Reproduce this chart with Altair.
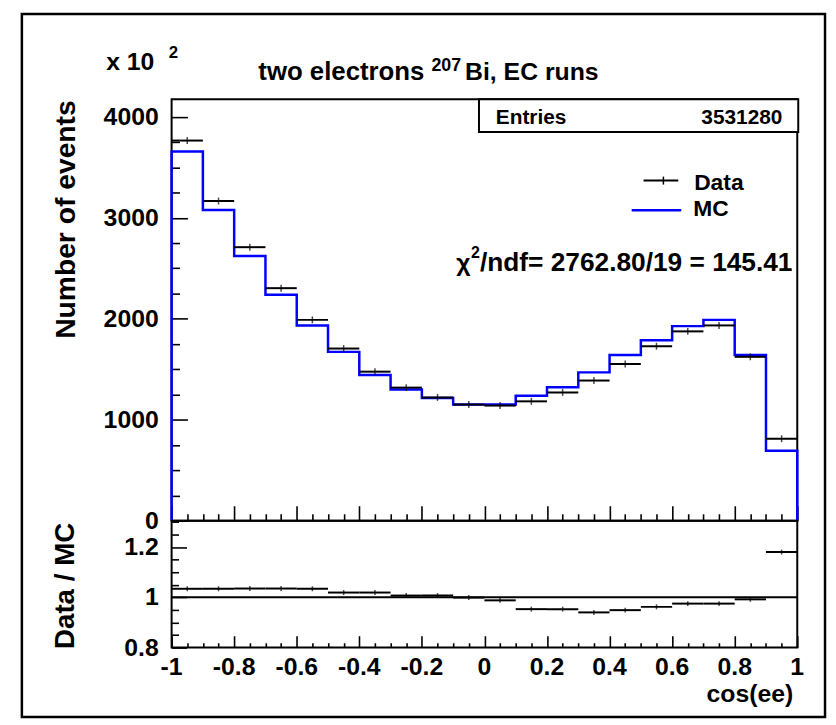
import altair as alt
import numpy as np
import pandas as pd

# ---------------- data (counts in units of 10^2) ----------------
bin_low = [-1.0, -0.9, -0.8, -0.7, -0.6, -0.5, -0.4, -0.3, -0.2, -0.1,
           0.0, 0.1, 0.2, 0.3, 0.4, 0.5, 0.6, 0.7, 0.8, 0.9]
bin_width = 0.1
data_counts = [3765, 3166, 2709, 2303, 1989, 1705, 1476, 1318, 1221, 1150,
               1140, 1182, 1270, 1388, 1552, 1728, 1875, 1934, 1623, 812]
mc_counts = [3657, 3078, 2621, 2238, 1934, 1672, 1444, 1300, 1214, 1150,
             1150, 1238, 1322, 1469, 1640, 1787, 1927, 1989, 1640, 692]
ratio_vals = [1.034, 1.034, 1.035, 1.035, 1.034, 1.019, 1.019, 1.007, 1.007, 0.999,
              0.988, 0.953, 0.953, 0.940, 0.949, 0.962, 0.975, 0.975, 0.992, 1.180]
x_labels = [-1, -0.8, -0.6, -0.4, -0.2, 0, 0.2, 0.4, 0.6, 0.8, 1]
y_top_labels = [0, 1000, 2000, 3000, 4000]
y_bot_labels = [0.8, 1.0, 1.2]
entries_value = "3531280"
chi2_rest = "/ndf= 2762.80/19 = 145.41"

FONT = "Liberation Sans"
W, HT, HB = 631, 425, 128
X_DOM = [-1.0, 1.0]
YT_DOM = [0.0, 4174.0]
YB_DOM = [0.8, 1.305]

bins = pd.DataFrame({
    "lo": bin_low,
    "hi": [round(b + bin_width, 2) for b in bin_low],
    "mid": [round(b + bin_width / 2, 3) for b in bin_low],
    "data": data_counts,
    "mc": mc_counts,
    "ratio": ratio_vals,
})

step = pd.DataFrame({
    "x": [-1.0] + bin_low + [1.0, 1.0],
    "y": [0] + mc_counts + [mc_counts[-1], 0],
})
step["i"] = range(len(step))

x_minor = [round(float(v), 2) for v in np.arange(-1, 1.0001, 0.05)]
yt_minor = [float(v) for v in range(0, 4174, 250)]
yb_minor = [round(float(v), 2) for v in np.arange(0.8, 1.3001, 0.05)]

one = pd.DataFrame({"k": [0]})

x_sc = alt.Scale(domain=X_DOM, nice=False, zero=False)
yt_sc = alt.Scale(domain=YT_DOM, nice=False, zero=False)
yb_sc = alt.Scale(domain=YB_DOM, nice=False, zero=False)

MAJOR_02 = "abs(datum.value * 5 - round(datum.value * 5)) < 0.001"
MAJOR_1000 = "abs(datum.value / 1000 - round(datum.value / 1000)) < 0.001"


def tick_axis(values, test, major_dash, minor_dash):
    # inward ROOT-style ticks drawn as short dashed grid lines from the frame edge
    return alt.Axis(values=values, labels=False, ticks=False, domain=False, grid=True,
                    gridColor="black", gridWidth=1.6, gridOpacity=1,
                    gridDash={"condition": {"test": test, "value": major_dash},
                              "value": minor_dash},
                    title=None)


# vertical grid lines run from the top of the panel to the bottom: put the dash at the end
xt_axis = tick_axis(x_minor, MAJOR_02, [0, HT - 15, 60], [0, HT - 7, 60])
xb_axis = tick_axis(x_minor, MAJOR_02, [0, HB - 12, 60], [0, HB - 5, 60])
# horizontal grid lines run from the left edge to the right
yt_axis = tick_axis(yt_minor, MAJOR_1000, [16, 2000], [8, 2000])
yb_axis = tick_axis(yb_minor, MAJOR_02, [15, 2000], [7, 2000])


def XT(f):
    return alt.X(f, type="quantitative", scale=x_sc, axis=xt_axis)


def XB(f):
    return alt.X(f, type="quantitative", scale=x_sc, axis=xb_axis)


def YT(f):
    return alt.Y(f, type="quantitative", scale=yt_sc, axis=yt_axis)


def YB(f):
    return alt.Y(f, type="quantitative", scale=yb_sc, axis=yb_axis)


def txt(x, y, s, size, align="left", baseline="alphabetic", color="black", angle=None):
    kw = dict(text=s, font=FONT, fontWeight="bold", fontSize=size,
              align=align, baseline=baseline, color=color)
    if angle is not None:
        kw["angle"] = angle
    return alt.Chart(one).mark_text(**kw).encode(x=alt.value(x), y=alt.value(y))


def hline(x1, x2, y, color="black", width=2):
    return alt.Chart(one).mark_rule(color=color, strokeWidth=width).encode(
        x=alt.value(x1), x2=alt.value(x2), y=alt.value(y))


_counter = [0]


def _uid():
    _counter[0] += 1
    return _counter[0]


def ylabels(values, yenc):
    n = _uid()
    df = pd.DataFrame({f"ylp{n}": values, f"yl{n}": [f"{v:g}" for v in values]})
    return alt.Chart(df).mark_text(font=FONT, fontWeight="bold", fontSize=25, align="right",
                                   baseline="middle", color="black").encode(
        y=yenc(f"ylp{n}"), x=alt.value(-13), text=f"yl{n}:N")


def xlabels(values, xenc, ypx):
    n = _uid()
    df = pd.DataFrame({f"xlp{n}": values, f"xl{n}": [f"{v:g}" for v in values]})
    return alt.Chart(df).mark_text(font=FONT, fontWeight="bold", fontSize=25, align="center",
                                   baseline="middle", color="black").encode(
        x=xenc(f"xlp{n}"), y=alt.value(ypx), text=f"xl{n}:N")


# ---------------- top panel ----------------
outer = alt.Chart(one).mark_rect(fillOpacity=0, stroke="black", strokeWidth=2.5).encode(
    x=alt.value(-151), x2=alt.value(659), y=alt.value(-86), y2=alt.value(623))

mc_line = alt.Chart(step).mark_line(interpolate="step-after", color="#0000ff",
                                    strokeWidth=2.5).encode(
    x=XT("x"), y=YT("y"), order=alt.Order("i:Q"))

data_bars = alt.Chart(bins).mark_rule(color="black", strokeWidth=2).encode(
    x=XT("lo"), x2="hi", y=YT("data"))
data_err = alt.Chart(bins).mark_tick(orient="vertical", size=7, thickness=1.5,
                                     color="black").encode(x=XT("mid"), y=YT("data"))

stats_box = alt.Chart(one).mark_rect(fill="white", stroke="black", strokeWidth=2).encode(
    x=alt.value(310), x2=alt.value(632), y=alt.value(0), y2=alt.value(33))

top = alt.layer(
    outer, mc_line, data_bars, data_err,
    ylabels(y_top_labels, YT),
    txt(-106, 1, "Number of events", 28.5, align="right", baseline="middle", angle=270),
    stats_box,
    txt(327, 25, "Entries", 21),
    txt(616, 25, entries_value, 21, align="right"),
    txt(255, -19, "two electrons", 26, align="right"),
    txt(262, -29, "207", 18),
    txt(296, -19, "Bi, EC runs", 25),
    txt(-66, -30, "x 10", 25),
    txt(-3, -42, "2", 17),
    hline(476, 511, 82),
    alt.Chart(one).mark_rule(color="black", strokeWidth=1.5).encode(
        x=alt.value(496), y=alt.value(78), y2=alt.value(86)),
    txt(527, 92, "Data", 23),
    hline(464, 514, 112, color="#0000ff", width=2.5),
    txt(526, 118, "MC", 23),
    txt(287, 173, "\u03c7", 25),
    txt(302, 160, "2", 16),
    txt(311, 173, chi2_rest, 26.5),
).properties(width=W, height=HT)

# ---------------- ratio panel ----------------
one_line = alt.Chart(pd.DataFrame({"r": [1.0]})).mark_rule(color="black", strokeWidth=2).encode(
    y=YB("r"))
ratio_bars = alt.Chart(bins).mark_rule(color="black", strokeWidth=2).encode(
    x=XB("lo"), x2="hi", y=YB("ratio"))
ratio_err = alt.Chart(bins).mark_tick(orient="vertical", size=5, thickness=1.5,
                                      color="black").encode(x=XB("mid"), y=YB("ratio"))

bottom = alt.layer(
    one_line, ratio_bars, ratio_err,
    ylabels(y_bot_labels, YB),
    xlabels(x_labels, XB, HB + 20),
    txt(-106, 2, "Data / MC", 28, align="right", baseline="middle", angle=270),
    txt(627, 175, "cos(ee)", 25, align="right", baseline="middle"),
).properties(width=W, height=HB)

chart = alt.vconcat(top, bottom, spacing=0, bounds="flush").properties(
    padding={"left": 11, "top": 0, "right": 0, "bottom": 0}
).configure_view(stroke="black", strokeWidth=2)

chart.save("out.html", embed_options={"renderer": "svg", "actions": False})
